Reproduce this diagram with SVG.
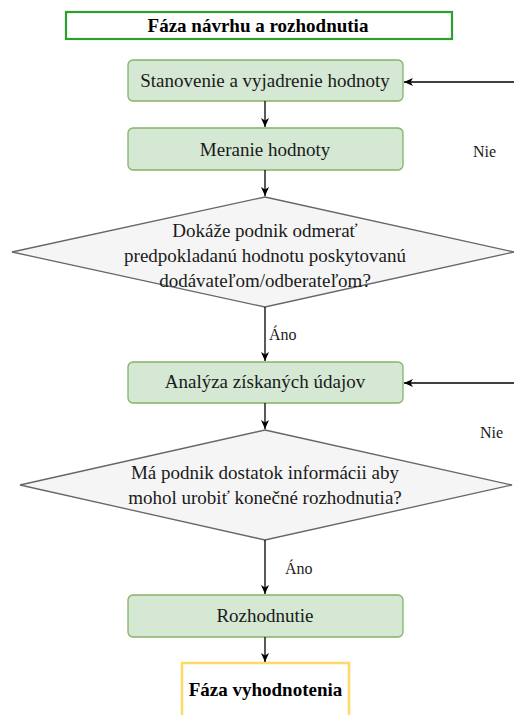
<svg xmlns="http://www.w3.org/2000/svg" width="514" height="715" viewBox="0 0 514 715">
<style>
.t{font-family:"Liberation Serif","Times New Roman",serif;font-size:19px;fill:#1a1a1a;text-anchor:middle}
.b{font-weight:bold;fill:#000}
.l{font-family:"Liberation Serif","Times New Roman",serif;font-size:16px;fill:#1a1a1a}
.proc{fill:#d5e8d4;stroke:#82b366;stroke-width:1.3}
.dec{fill:#f5f5f5;stroke:#666;stroke-width:1.3}
.edge{stroke:#000;stroke-width:1.3;fill:none;marker-end:url(#ah)}
</style>
<defs>
<marker id="ah" markerWidth="10" markerHeight="10" refX="9" refY="5" orient="auto" markerUnits="userSpaceOnUse">
<path d="M0,1 L9,5 L0,9 L2.5,5 Z" fill="#000"/>
</marker>
</defs>
<rect width="514" height="715" fill="#fff"/>
<g id="title">
<rect x="66" y="12" width="386" height="27" fill="#fff" stroke="#2ca02c" stroke-width="2.2"/>
<text class="t b" x="258" y="31.5">Fáza návrhu a rozhodnutia</text>
</g>
<g id="n1">
<rect class="proc" x="128" y="60" width="275" height="41" rx="5"/>
<text class="t" x="265" y="87">Stanovenie a vyjadrenie hodnoty</text>
</g>
<g id="n2">
<rect class="proc" x="128" y="128" width="275" height="42" rx="5"/>
<text class="t" x="265" y="156">Meranie hodnoty</text>
</g>
<g id="d1">
<polygon class="dec" points="265,197 514,252 265,307 12,252"/>
<text class="t" x="265" y="237">Dokáže podnik odmerať</text>
<text class="t" x="265" y="262">predpokladanú hodnotu poskytovanú</text>
<text class="t" x="265" y="287">dodávateľom/odberateľom?</text>
</g>
<g id="n3">
<rect class="proc" x="128" y="362" width="275" height="41" rx="5"/>
<text class="t" x="265" y="388">Analýza získaných údajov</text>
</g>
<g id="d2">
<polygon class="dec" points="265,430 512,485 265,540 20,485"/>
<text class="t" x="265" y="479">Má podnik dostatok informácii aby</text>
<text class="t" x="265" y="504">mohol urobiť konečné rozhodnutia?</text>
</g>
<g id="n4">
<rect class="proc" x="128" y="595" width="275" height="42" rx="5"/>
<text class="t" x="265" y="622">Rozhodnutie</text>
</g>
<g id="end">
<rect x="182" y="663" width="167" height="60" fill="#fff" stroke="#ffd966" stroke-width="2.5"/>
<text class="t b" x="265.5" y="696">Fáza vyhodnotenia</text>
</g>
<g id="connectors">
<line class="edge" x1="265" y1="101" x2="265" y2="127"/>
<line class="edge" x1="265" y1="170" x2="265" y2="196"/>
<line class="edge" x1="265" y1="307" x2="265" y2="361"/>
<line class="edge" x1="265" y1="403" x2="265" y2="429"/>
<line class="edge" x1="265" y1="540" x2="265" y2="594"/>
<line class="edge" x1="265" y1="637" x2="265" y2="662"/>
<line class="edge" x1="514" y1="82" x2="404" y2="82"/>
<line class="edge" x1="514" y1="383" x2="404" y2="383"/>
<text class="l" x="473" y="157">Nie</text>
<text class="l" x="480" y="438">Nie</text>
<text class="l" x="269" y="340">Áno</text>
<text class="l" x="285" y="574">Áno</text>
</g>
</svg>
